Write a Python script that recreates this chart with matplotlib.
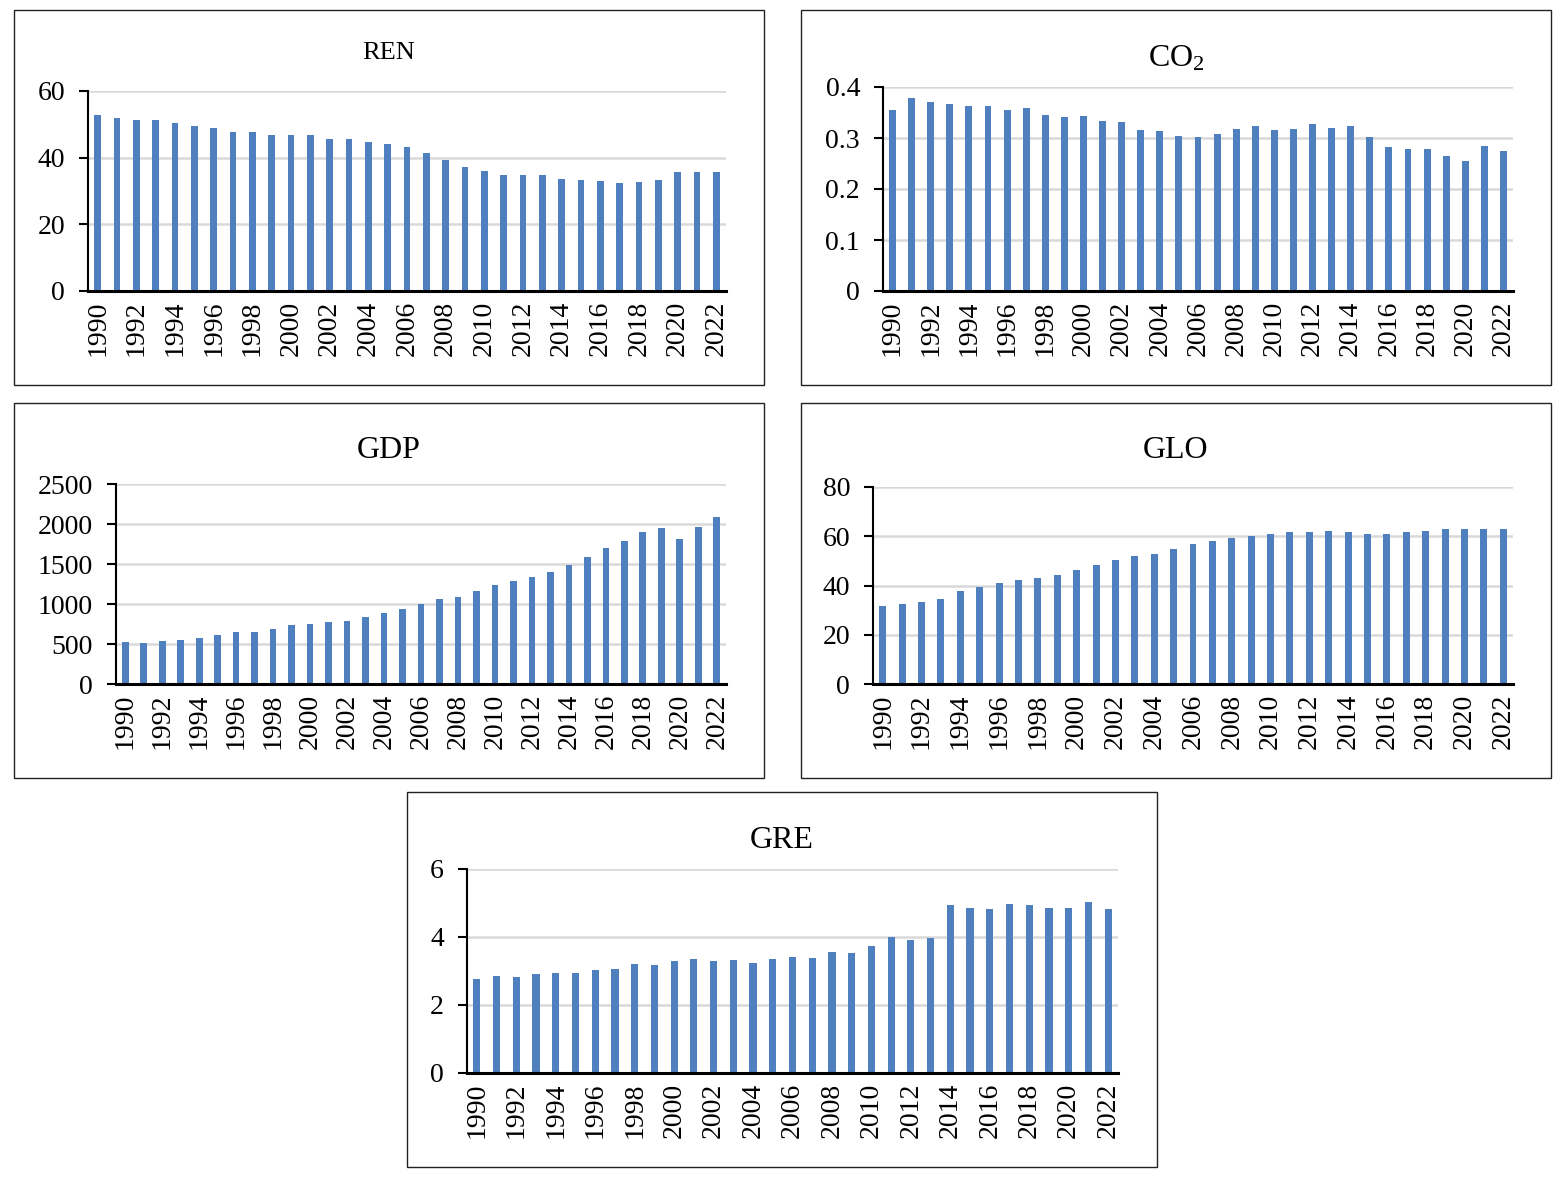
import numpy as np
import matplotlib.pyplot as plt
from matplotlib.patches import Rectangle

plt.rcParams['font.family'] = ['Liberation Serif', 'DejaVu Serif']
plt.rcParams['mathtext.fontset'] = 'custom'
plt.rcParams['mathtext.rm'] = 'Liberation Serif'
plt.rcParams['mathtext.it'] = 'Liberation Serif:italic'

years = list(range(1990, 2023))

ren = [52.8, 51.9, 51.3, 51.3, 50.3, 49.5, 49.0, 47.8, 47.8, 46.9, 46.9,
       46.9, 45.7, 45.5, 44.8, 44.1, 43.1, 41.5, 39.3, 37.3, 36.1, 34.9,
       34.7, 34.8, 33.7, 33.3, 33.0, 32.4, 32.7, 33.3, 35.7, 35.7, 35.7]
co2 = [0.354, 0.378, 0.370, 0.366, 0.363, 0.363, 0.354, 0.359, 0.346, 0.342,
       0.343, 0.333, 0.331, 0.315, 0.313, 0.303, 0.301, 0.307, 0.318, 0.323,
       0.316, 0.318, 0.327, 0.319, 0.323, 0.301, 0.282, 0.278, 0.278, 0.264,
       0.254, 0.284, 0.274]
gdp = [527, 518, 539, 556, 581, 610, 644, 656, 686, 740, 748, 773, 790, 840,
       890, 941, 999, 1066, 1083, 1158, 1233, 1283, 1334, 1400, 1488, 1589,
       1697, 1793, 1894, 1944, 1814, 1961, 2086]
glo = [31.7, 32.5, 33.2, 34.4, 37.6, 39.3, 40.9, 42.4, 43.1, 44.3, 46.2, 48.3,
       50.3, 51.8, 52.9, 54.9, 56.7, 57.9, 59.4, 59.9, 61.0, 61.6, 61.7, 62.0,
       61.7, 61.0, 61.0, 61.7, 62.2, 62.8, 62.8, 62.8, 62.8]
gre = [2.76, 2.85, 2.81, 2.91, 2.94, 2.94, 3.02, 3.05, 3.20, 3.18, 3.29, 3.35,
       3.29, 3.31, 3.25, 3.36, 3.41, 3.38, 3.56, 3.53, 3.73, 3.99, 3.92, 3.97,
       4.93, 4.85, 4.83, 4.97, 4.94, 4.85, 4.85, 5.02, 4.81]

W, H = 1566, 1177
fig = plt.figure(figsize=(W / 100, H / 100), dpi=100)

bar_color = '#4F7FBE'


def px(x0, y0, x1, y1):
    # pixel box (top-left origin) -> figure fraction [l, b, w, h]
    return [x0 / W, 1 - y1 / H, (x1 - x0) / W, (y1 - y0) / H]


def panel(box, axbox, title, title_y, title_size, values, yticks, ylabels):
    fig.add_artist(Rectangle((box[0] / W, 1 - box[3] / H),
                             (box[2] - box[0]) / W, (box[3] - box[1]) / H,
                             transform=fig.transFigure, fill=False,
                             edgecolor='#222222', linewidth=1.0))
    fig.text((box[0] + box[2]) / 2 / W, 1 - title_y / H, title,
             ha='center', va='center', fontsize=title_size)
    ax = fig.add_axes(px(*axbox))
    x = np.arange(len(years))
    ax.bar(x, values, width=0.36, color=bar_color, zorder=3)
    ax.set_xlim(-0.5, len(years) - 0.5)
    ax.set_ylim(yticks[0], yticks[-1])
    ax.set_yticks(yticks)
    ax.set_yticklabels(ylabels, fontsize=20)
    ax.set_xticks(x[::2])
    ax.set_xticklabels([str(y) for y in years[::2]], rotation=90, fontsize=20)
    ax.tick_params(axis='x', length=0, pad=7)
    ax.tick_params(axis='y', length=6.5, width=1.5, pad=10)
    ax.yaxis.grid(True, color='#D9D9D9', linewidth=1.8, zorder=0)
    ax.set_axisbelow(True)
    for s in ['top', 'right']:
        ax.spines[s].set_visible(False)
    ax.spines['left'].set_linewidth(1.5)
    ax.spines['bottom'].set_linewidth(2.2)
    ax.spines['bottom'].set_zorder(4)
    return ax


panel((14, 10, 764, 385), (88, 91, 726, 291), 'REN', 53, 19, ren,
      [0, 20, 40, 60], ['0', '20', '40', '60'])
panel((801, 10, 1551, 385), (883, 87, 1513, 291), 'CO$_{2}$', 59, 23, co2,
      [0, 0.1, 0.2, 0.3, 0.4], ['0', '0.1', '0.2', '0.3', '0.4'])
panel((14, 403, 764, 778), (116, 484, 726, 684), 'GDP', 450, 23, gdp,
      [0, 500, 1000, 1500, 2000, 2500],
      ['0', '500', '1000', '1500', '2000', '2500'])
panel((801, 403, 1551, 778), (873, 487, 1513, 684), 'GLO', 450, 23, glo,
      [0, 20, 40, 60, 80], ['0', '20', '40', '60', '80'])
panel((407, 792, 1157, 1167), (467, 869, 1118, 1073), 'GRE', 840, 23, gre,
      [0, 2, 4, 6], ['0', '2', '4', '6'])

fig.savefig('out.png', dpi=100)
